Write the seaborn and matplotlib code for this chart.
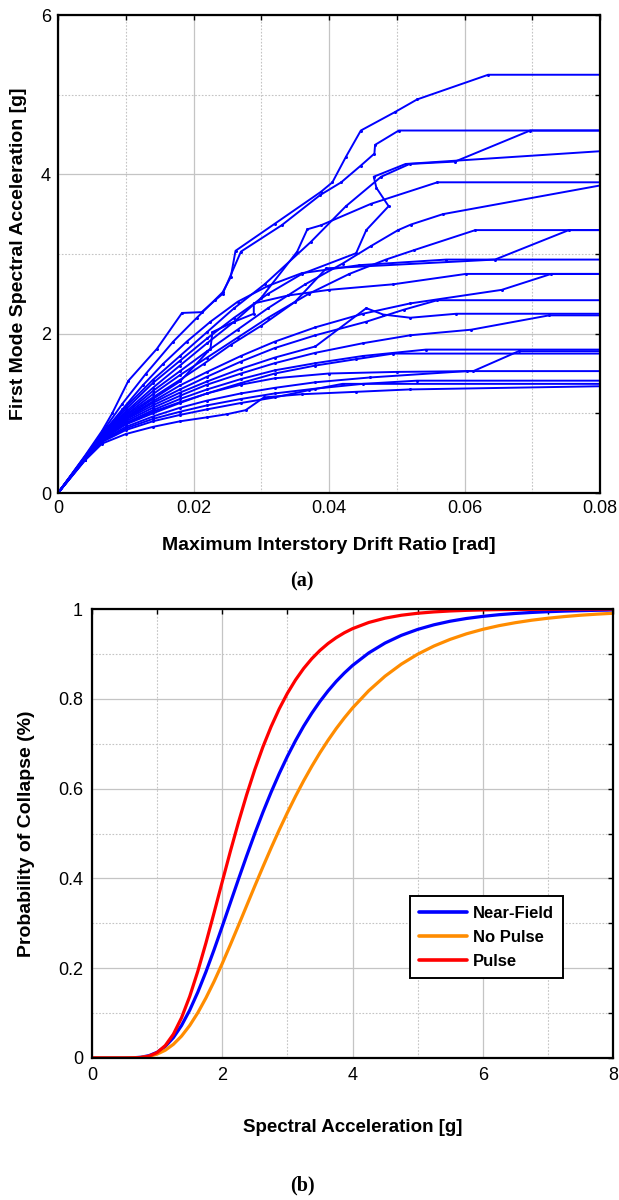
import pandas as pd
import seaborn as sns
import matplotlib.pyplot as plt
from matplotlib.ticker import MultipleLocator, FuncFormatter

# IDA curves: (max interstory drift [rad], first mode Sa [g])
rec01 = [(0, 0), (0.004, 0.46), (0.0065, 0.76), (0.0095, 1.12), (0.013, 1.5), (0.017, 1.9), (0.0205, 2.2),
         (0.0243, 2.52), (0.0255, 2.71), (0.0262, 3.04), (0.032, 3.38), (0.0388, 3.78), (0.0405, 3.90),
         (0.0425, 4.22), (0.0447, 4.55), (0.0497, 4.78), (0.053, 4.94), (0.0635, 5.25), (0.08, 5.25)]
rec02 = [(0, 0), (0.004, 0.47), (0.0065, 0.78), (0.008, 1.0), (0.0104, 1.41), (0.0146, 1.81), (0.0183, 2.26),
         (0.0212, 2.27), (0.0232, 2.42), (0.0243, 2.5), (0.027, 3.03), (0.033, 3.36), (0.0387, 3.74),
         (0.0418, 3.90), (0.0447, 4.11), (0.0467, 4.26), (0.0468, 4.37), (0.0503, 4.55), (0.08, 4.55)]
rec03 = [(0, 0), (0.004, 0.45), (0.0065, 0.74), (0.01, 1.08), (0.014, 1.42), (0.018, 1.72), (0.022, 2.02),
         (0.026, 2.32), (0.0305, 2.62), (0.0373, 3.15), (0.0425, 3.6), (0.0477, 3.97), (0.0519, 4.13),
         (0.0586, 4.16), (0.0697, 4.55), (0.08, 4.55)]
rec04 = [(0, 0), (0.004, 0.46), (0.0065, 0.74), (0.01, 1.05), (0.014, 1.38), (0.018, 1.66), (0.022, 1.94),
         (0.026, 2.2), (0.031, 2.5), (0.036, 2.75), (0.044, 3.01), (0.0455, 3.3), (0.0488, 3.6),
         (0.047, 3.83), (0.0466, 3.97), (0.0513, 4.13), (0.08, 4.29)]
rec05 = [(0, 0), (0.004, 0.45), (0.0065, 0.73), (0.01, 1.02), (0.014, 1.32), (0.018, 1.6), (0.022, 1.88),
         (0.026, 2.15), (0.03, 2.45), (0.0353, 3.03), (0.0368, 3.31), (0.0388, 3.36), (0.0462, 3.63),
         (0.056, 3.9), (0.08, 3.9)]
rec06 = [(0, 0), (0.004, 0.45), (0.0065, 0.72), (0.01, 1.0), (0.014, 1.28), (0.018, 1.53), (0.022, 1.78),
         (0.0265, 2.05), (0.031, 2.32), (0.0365, 2.62), (0.042, 2.88), (0.0462, 3.1), (0.0502, 3.3),
         (0.0521, 3.37), (0.0568, 3.5), (0.08, 3.86)]
rec07 = [(0, 0), (0.004, 0.45), (0.0065, 0.72), (0.01, 0.98), (0.014, 1.24), (0.018, 1.48), (0.022, 1.7),
         (0.0265, 1.95), (0.031, 2.2), (0.037, 2.5), (0.043, 2.75), (0.0484, 2.93), (0.0526, 3.05),
         (0.0616, 3.3), (0.08, 3.3)]
rec08 = [(0, 0), (0.004, 0.44), (0.0065, 0.71), (0.01, 0.97), (0.014, 1.2), (0.018, 1.42), (0.0215, 1.62),
         (0.0255, 1.86), (0.03, 2.1), (0.035, 2.4), (0.0396, 2.82), (0.0645, 2.93), (0.0754, 3.3), (0.08, 3.3)]
rec09 = [(0, 0), (0.004, 0.45), (0.0065, 0.74), (0.0095, 1.05), (0.0125, 1.35), (0.0155, 1.62), (0.019, 1.9),
         (0.0225, 2.15), (0.0265, 2.4), (0.031, 2.6), (0.036, 2.76), (0.0445, 2.86), (0.0573, 2.93), (0.08, 2.93)]
rec10 = [(0, 0), (0.004, 0.44), (0.0065, 0.7), (0.01, 0.95), (0.014, 1.18), (0.018, 1.4), (0.0225, 1.81),
         (0.0228, 2.02), (0.026, 2.15), (0.0289, 2.25), (0.0289, 2.38), (0.034, 2.48), (0.04, 2.55),
         (0.0495, 2.62), (0.0602, 2.75), (0.08, 2.75)]
rec11 = [(0, 0), (0.004, 0.44), (0.0065, 0.7), (0.01, 0.94), (0.014, 1.15), (0.018, 1.35), (0.022, 1.52),
         (0.027, 1.72), (0.032, 1.9), (0.038, 2.08), (0.045, 2.25), (0.052, 2.38), (0.0655, 2.55),
         (0.0728, 2.75), (0.08, 2.75)]
rec12 = [(0, 0), (0.004, 0.44), (0.0065, 0.7), (0.01, 0.93), (0.014, 1.13), (0.018, 1.3), (0.022, 1.46),
         (0.027, 1.65), (0.032, 1.82), (0.038, 1.98), (0.0455, 2.15), (0.051, 2.3), (0.056, 2.42), (0.08, 2.42)]
rec13 = [(0, 0), (0.004, 0.44), (0.0065, 0.69), (0.01, 0.92), (0.014, 1.1), (0.018, 1.26), (0.022, 1.4),
         (0.027, 1.56), (0.032, 1.7), (0.038, 1.84), (0.0455, 2.32), (0.048, 2.24), (0.052, 2.2),
         (0.0588, 2.25), (0.08, 2.25)]
rec14 = [(0, 0), (0.004, 0.43), (0.0065, 0.69), (0.01, 0.9), (0.014, 1.07), (0.018, 1.22), (0.022, 1.36),
         (0.027, 1.5), (0.032, 1.63), (0.038, 1.76), (0.045, 1.88), (0.052, 1.98), (0.061, 2.05),
         (0.0725, 2.23), (0.08, 2.23)]
rec15 = [(0, 0), (0.004, 0.43), (0.0065, 0.68), (0.01, 0.88), (0.014, 1.04), (0.018, 1.18), (0.022, 1.3),
         (0.027, 1.43), (0.032, 1.54), (0.038, 1.63), (0.045, 1.72), (0.0543, 1.8), (0.08, 1.8)]
rec16 = [(0, 0), (0.004, 0.43), (0.0065, 0.68), (0.01, 0.87), (0.014, 1.02), (0.018, 1.14), (0.022, 1.25),
         (0.027, 1.36), (0.032, 1.44), (0.04, 1.5), (0.05, 1.52), (0.0613, 1.53), (0.068, 1.78), (0.08, 1.78)]
rec17 = [(0, 0), (0.004, 0.43), (0.0065, 0.67), (0.01, 0.86), (0.014, 1.0), (0.018, 1.13), (0.022, 1.25),
         (0.027, 1.38), (0.032, 1.5), (0.038, 1.6), (0.044, 1.68), (0.0495, 1.75), (0.08, 1.75)]
rec18 = [(0, 0), (0.004, 0.42), (0.0065, 0.66), (0.01, 0.83), (0.014, 0.96), (0.018, 1.07), (0.022, 1.16),
         (0.027, 1.25), (0.032, 1.32), (0.038, 1.39), (0.046, 1.45), (0.0603, 1.53), (0.08, 1.53)]
rec19 = [(0, 0), (0.004, 0.42), (0.0065, 0.65), (0.01, 0.81), (0.014, 0.93), (0.018, 1.02), (0.022, 1.1),
         (0.027, 1.18), (0.032, 1.25), (0.038, 1.31), (0.045, 1.37), (0.053, 1.41), (0.08, 1.41)]
rec20 = [(0, 0), (0.004, 0.42), (0.0065, 0.64), (0.01, 0.79), (0.014, 0.9), (0.018, 0.98), (0.022, 1.05),
         (0.027, 1.13), (0.032, 1.2), (0.037, 1.29), (0.042, 1.37), (0.08, 1.37)]
rec21 = [(0, 0), (0.004, 0.41), (0.0065, 0.62), (0.01, 0.74), (0.014, 0.83), (0.018, 0.9), (0.022, 0.95),
         (0.025, 0.99), (0.0277, 1.04), (0.0304, 1.2), (0.036, 1.24), (0.044, 1.27), (0.0519, 1.3), (0.08, 1.34)]

ida_records = [rec01, rec02, rec03, rec04, rec05, rec06, rec07, rec08, rec09, rec10, rec11,
               rec12, rec13, rec14, rec15, rec16, rec17, rec18, rec19, rec20, rec21]

# Fragility curves
sa_grid = [0, 0.25, 0.5, 0.625, 0.75, 0.875, 1.0, 1.125, 1.25, 1.375, 1.5, 1.625, 1.75, 1.875, 2.0,
           2.125, 2.25, 2.375, 2.5, 2.625, 2.75, 2.875, 3.0, 3.125, 3.25, 3.375, 3.5, 3.625, 3.75, 3.875, 4.0,
           4.25, 4.5, 4.75, 5.0, 5.25, 5.5, 5.75, 6.0, 6.25, 6.5, 6.75, 7.0, 7.25, 7.5, 7.75, 8.0]
p_near_field = [0, 0, 0, 0.0004, 0.0017, 0.0052, 0.0127, 0.0257, 0.0454, 0.0724, 0.1064, 0.1467, 0.1921,
                0.2414, 0.2931,
                0.3459, 0.3986, 0.4502, 0.5, 0.5474, 0.5919, 0.6334, 0.6717, 0.7068, 0.739, 0.7679, 0.7941,
                0.8176, 0.8387, 0.8574, 0.8742,
                0.9022, 0.9242, 0.9413, 0.9545, 0.9648, 0.9728, 0.9789, 0.9836, 0.9873, 0.9901, 0.9923,
                0.994, 0.9953, 0.9963, 0.9971, 0.9977]
p_no_pulse = [0, 0, 0, 0.0003, 0.0012, 0.0036, 0.0087, 0.0173, 0.0305, 0.0488, 0.0723, 0.1008, 0.1339,
              0.1706, 0.2104,
              0.2524, 0.2955, 0.3393, 0.383, 0.4259, 0.4677, 0.508, 0.5464, 0.5829, 0.6174, 0.6496, 0.6798,
              0.7077, 0.7337, 0.7575, 0.7795,
              0.8181, 0.8504, 0.8772, 0.8993, 0.9175, 0.9324, 0.9447, 0.9547, 0.9629, 0.9695, 0.975,
              0.9794, 0.9831, 0.9861, 0.9885, 0.9905]
p_pulse = [0, 0, 0, 0.0002, 0.0011, 0.0042, 0.0121, 0.0277, 0.0531, 0.0897, 0.137, 0.1933, 0.2565,
           0.3239, 0.3926,
           0.4605, 0.5255, 0.5865, 0.6425, 0.6931, 0.738, 0.7777, 0.8122, 0.842, 0.8676, 0.8893, 0.9077,
           0.9232, 0.9362, 0.9471, 0.9562,
           0.97, 0.9796, 0.9861, 0.9905, 0.9935, 0.9956, 0.997, 0.9979, 0.9986, 0.999, 0.9993,
           0.9995, 0.9997, 0.9998, 0.9998, 0.9999]
frag_labels = ['Near-Field', 'No Pulse', 'Pulse']
frag_colors = ['#0000ff', '#ff8c00', '#ff0000']

sns.set_style('white')
plt.rcParams['font.family'] = ['Liberation Sans', 'DejaVu Sans']
plt.rcParams['text.color'] = 'black'
plt.rcParams['axes.labelcolor'] = 'black'

# long tables for seaborn
rows = []
for i, rec in enumerate(ida_records):
    for j, (d, s) in enumerate(rec):
        rows.append({'rec': i, 'step': j, 'drift': d, 'sa': s})
df_ida = pd.DataFrame(rows)

df_frag = pd.concat([
    pd.DataFrame({'sa': sa_grid, 'p': vals, 'model': lab})
    for lab, vals in zip(frag_labels, [p_near_field, p_no_pulse, p_pulse])
], ignore_index=True)


def tick_fmt(v, pos):
    return '0' if abs(v) < 1e-9 else f'{round(v, 4):g}'


def style_axes(ax, xmaj, xmin, ymaj, ymin, pad):
    ax.xaxis.set_major_locator(MultipleLocator(xmaj))
    ax.xaxis.set_minor_locator(MultipleLocator(xmin))
    ax.yaxis.set_major_locator(MultipleLocator(ymaj))
    ax.yaxis.set_minor_locator(MultipleLocator(ymin))
    ax.xaxis.set_major_formatter(FuncFormatter(tick_fmt))
    ax.yaxis.set_major_formatter(FuncFormatter(tick_fmt))
    ax.grid(which='major', color='#c4c4c4', lw=0.9, ls='-')
    ax.grid(which='minor', color='#c4c4c4', lw=0.8, ls=(0, (1.5, 1.5)))
    ax.set_axisbelow(True)
    ax.tick_params(which='both', direction='in', top=True, right=True, length=3.5, width=1,
                   colors='black', labelsize=13, pad=pad)
    for sp in ax.spines.values():
        sp.set_color('black')
        sp.set_linewidth(1.6)


fig = plt.figure(figsize=(6.19, 12), dpi=100)
ax1 = fig.add_axes([58 / 619, 1 - 493 / 1200, 542 / 619, 478 / 1200])
ax2 = fig.add_axes([92 / 619, 1 - 1058 / 1200, 521 / 619, 449 / 1200])

# (a) IDA curves
sns.lineplot(data=df_ida, x='drift', y='sa', units='rec', estimator=None, sort=False,
             color='#0000ff', lw=1.4, marker='o', markersize=2.2, markeredgewidth=0,
             legend=False, ax=ax1)
ax1.set_xlim(0, 0.08)
ax1.set_ylim(0, 6)
style_axes(ax1, 0.02, 0.01, 2, 1, 5)
ax1.set_xlabel('Maximum Interstory Drift Ratio [rad]', fontsize=14, fontweight='bold', va='top')
ax1.set_ylabel('First Mode Spectral Acceleration [g]', fontsize=14, fontweight='bold')
ax1.xaxis.set_label_coords(0.5, -0.092)
ax1.yaxis.set_label_coords(-0.058, 0.5)

# (b) fragility curves
sns.lineplot(data=df_frag, x='sa', y='p', hue='model', palette=dict(zip(frag_labels, frag_colors)),
             estimator=None, sort=False, lw=2.3, ax=ax2)
ax2.set_xlim(0, 8)
ax2.set_ylim(0, 1)
style_axes(ax2, 2, 1, 0.2, 0.1, 6.5)
ax2.set_xlabel('Spectral Acceleration [g]', fontsize=13.5, fontweight='bold', va='top')
ax2.set_ylabel('Probability of Collapse (%)', fontsize=14, fontweight='bold')
ax2.xaxis.set_label_coords(0.5, -0.136)
ax2.yaxis.set_label_coords(-0.11, 0.5)

handles, labels = ax2.get_legend_handles_labels()
leg = ax2.legend(handles, labels, loc='upper left', bbox_to_anchor=(0.61, 0.36), frameon=True,
                 fancybox=False, edgecolor='black', framealpha=1, handlelength=2.9,
                 handletextpad=0.35, labelspacing=0.55, borderpad=0.55, borderaxespad=0,
                 prop={'weight': 'bold', 'size': 12})
leg.get_frame().set_linewidth(1.4)
for line in leg.get_lines():
    line.set_linewidth(2.6)

fig.text(302 / 619, 1 - 581 / 1200, '(a)', ha='center', va='center', fontsize=14.5,
         fontweight='bold', family=['Liberation Serif', 'DejaVu Serif'])
fig.text(302 / 619, 1 - 1185 / 1200, '(b)', ha='center', va='center', fontsize=14.5,
         fontweight='bold', family=['Liberation Serif', 'DejaVu Serif'])

fig.savefig('out.png', dpi=100)
